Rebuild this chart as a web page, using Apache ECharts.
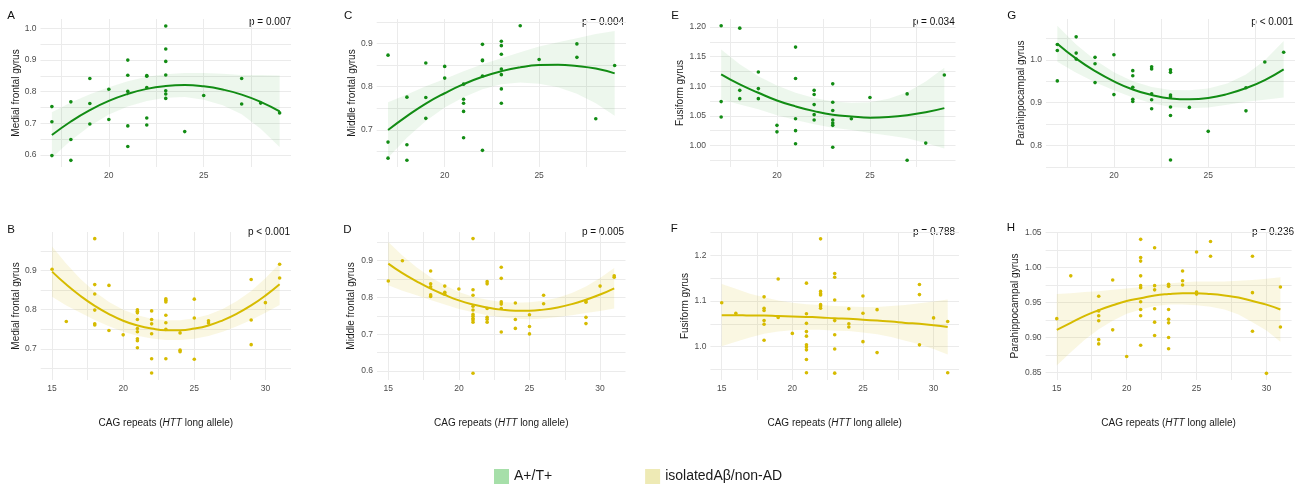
<!DOCTYPE html>
<html><head><meta charset="utf-8">
<script src="https://cdn.jsdelivr.net/npm/echarts@6/dist/echarts.min.js"></script>
<style>html,body{margin:0;padding:0;background:#fff}#c{width:1305px;height:488px}</style>
</head><body><div id="c"></div>
<script>
// ---------- DATA ----------
const fitX1 = [17,18,19,20,21,22,23,24,25,26,27,28,29];
const fitX2 = [15,16,17,18,19,20,21,22,23,24,25,26,27,28,29,30,31];

const ptsA = [[17,0.753],[17,0.705],[17,0.598],[18,0.768],[18,0.649],[18,0.583],[19,0.842],[19,0.763],[19,0.698],
  [20,0.808],[20,0.712],[21,0.900],[21,0.852],[21,0.801],[21,0.692],[21,0.627],[22,0.851],[22,0.849],[22,0.813],[22,0.717],[22,0.695],
  [23,1.008],[23,0.935],[23,0.896],[23,0.853],[23,0.803],[23,0.793],[23,0.779],[24,0.674],[25,0.788],[27,0.842],[27,0.761],[28,0.764],[29,0.733]];
const fitA = [0.663,0.706,0.742,0.771,0.793,0.809,0.818,0.821,0.817,0.807,0.791,0.768,0.738];
const ciA  = [0.072,0.060,0.050,0.043,0.040,0.038,0.037,0.038,0.042,0.050,0.062,0.085,0.113];

const ptsC = [[17,0.873],[17,0.672],[17,0.635],[18,0.776],[18,0.666],[18,0.630],[19,0.855],[19,0.775],[19,0.727],
  [20,0.847],[20,0.820],[21,0.806],[21,0.771],[21,0.762],[21,0.743],[21,0.682],[22,0.898],[22,0.862],[22,0.860],[22,0.825],[22,0.653],
  [23,0.905],[23,0.895],[23,0.875],[23,0.841],[23,0.828],[23,0.795],[23,0.762],[24,0.941],[25,0.863],[27,0.899],[27,0.868],[28,0.726],[29,0.849]];
const fitC = [0.700,0.732,0.761,0.785,0.806,0.823,0.836,0.845,0.850,0.851,0.848,0.842,0.831];
const ciC  = [0.064,0.050,0.040,0.033,0.030,0.029,0.030,0.035,0.043,0.052,0.064,0.080,0.098];

const ptsE = [[17,1.202],[17,1.074],[17,1.048],[18,1.198],[18,1.093],[18,1.079],[19,1.124],[19,1.096],[19,1.079],
  [20,1.034],[20,1.023],[21,1.166],[21,1.113],[21,1.045],[21,1.025],[21,1.003],[22,1.093],[22,1.086],[22,1.069],[22,1.052],[22,1.043],
  [23,1.104],[23,1.073],[23,1.059],[23,1.043],[23,1.038],[23,1.034],[23,0.997],[24,1.045],[25,1.081],[27,1.087],[27,0.975],[28,1.004],[29,1.119]];
const fitE = [1.120,1.103,1.089,1.076,1.066,1.058,1.052,1.049,1.047,1.048,1.051,1.056,1.063];
const ciE  = [0.042,0.034,0.028,0.025,0.023,0.022,0.022,0.023,0.026,0.031,0.039,0.052,0.068];

const ptsG = [[17,1.036],[17,1.022],[17,0.951],[18,1.054],[18,1.016],[18,1.002],[19,1.006],[19,0.991],[19,0.947],
  [20,1.012],[20,0.919],[21,0.975],[21,0.963],[21,0.936],[21,0.908],[21,0.903],[22,0.984],[22,0.979],[22,0.921],[22,0.907],[22,0.886],
  [23,0.977],[23,0.971],[23,0.918],[23,0.914],[23,0.890],[23,0.870],[23,0.766],[24,0.889],[25,0.833],[27,0.935],[27,0.881],[28,0.995],[29,1.018]];
const fitG = [1.038,1.003,0.974,0.950,0.931,0.918,0.910,0.908,0.911,0.920,0.934,0.953,0.978];
const ciG  = [0.042,0.033,0.026,0.021,0.019,0.019,0.020,0.021,0.022,0.025,0.032,0.046,0.066];

const ptsB = [[15,0.903],[16,0.770],[18,0.981],[18,0.864],[18,0.840],[18,0.799],[18,0.764],[18,0.761],[19,0.862],[19,0.747],[20,0.736],
  [21,0.800],[21,0.796],[21,0.792],[21,0.775],[21,0.752],[21,0.744],[21,0.726],[21,0.721],[21,0.703],
  [22,0.797],[22,0.775],[22,0.764],[22,0.739],[22,0.675],[22,0.639],[23,0.828],[23,0.824],[23,0.820],[23,0.786],[23,0.767],[23,0.750],[23,0.675],
  [24,0.741],[24,0.697],[24,0.693],[25,0.827],[25,0.779],[25,0.674],[26,0.772],[26,0.766],[29,0.877],[29,0.774],[29,0.711],[30,0.818],[31,0.916],[31,0.881]];
const fitB = [0.897,0.864,0.835,0.810,0.789,0.772,0.760,0.752,0.748,0.748,0.752,0.760,0.773,0.790,0.811,0.836,0.865];
const ciB  = [0.064,0.053,0.043,0.036,0.031,0.028,0.026,0.025,0.025,0.025,0.026,0.027,0.029,0.032,0.037,0.044,0.053];

const ptsD = [[15,0.845],[16,0.900],[18,0.872],[18,0.837],[18,0.829],[18,0.807],[18,0.803],[19,0.831],[19,0.814],[19,0.809],[20,0.823],
  [21,0.960],[21,0.821],[21,0.806],[21,0.776],[21,0.766],[21,0.754],[21,0.749],[21,0.743],[21,0.739],[21,0.733],[21,0.594],
  [22,0.843],[22,0.837],[22,0.770],[22,0.746],[22,0.741],[22,0.733],[23,0.882],[23,0.852],[23,0.788],[23,0.782],[23,0.770],[23,0.706],
  [24,0.785],[24,0.740],[24,0.716],[25,0.753],[25,0.721],[25,0.701],[26,0.806],[26,0.783],[29,0.791],[29,0.787],[29,0.746],[29,0.729],[30,0.831],[31,0.859],[31,0.855]];
const fitD = [0.892,0.866,0.844,0.824,0.807,0.792,0.781,0.773,0.767,0.764,0.764,0.767,0.773,0.782,0.794,0.808,0.825];
const ciD  = [0.059,0.048,0.038,0.031,0.026,0.023,0.021,0.021,0.021,0.022,0.023,0.024,0.026,0.030,0.036,0.045,0.055];

const ptsF = [[15,1.096],[16,1.073],[18,1.109],[18,1.084],[18,1.079],[18,1.057],[18,1.049],[18,1.014],[19,1.148],[19,1.064],[20,1.029],
  [21,1.139],[21,1.072],[21,1.051],[21,1.033],[21,1.023],[21,1.004],[21,0.999],[21,0.993],[21,0.972],[21,0.943],
  [22,1.236],[22,1.121],[22,1.116],[22,1.113],[22,1.092],[22,1.089],[22,1.084],[23,1.160],[23,1.152],[23,1.102],[23,1.057],[23,1.026],[23,0.995],[23,0.942],
  [24,1.083],[24,1.050],[24,1.043],[25,1.111],[25,1.073],[25,1.011],[26,1.081],[26,0.987],[29,1.136],[29,1.114],[29,1.004],[30,1.063],[31,1.055],[31,0.943]];
const fitF = [1.069,1.069,1.068,1.068,1.067,1.066,1.065,1.064,1.062,1.061,1.059,1.057,1.055,1.052,1.050,1.047,1.043];
const ciF  = [0.068,0.058,0.048,0.040,0.034,0.030,0.028,0.027,0.027,0.027,0.028,0.030,0.034,0.039,0.045,0.052,0.060];

const ptsH = [[15,0.927],[16,0.988],[18,0.959],[18,0.938],[18,0.931],[18,0.924],[18,0.897],[18,0.891],[19,0.982],[19,0.911],[20,0.873],
  [21,1.040],[21,1.014],[21,1.009],[21,0.988],[21,0.974],[21,0.971],[21,0.951],[21,0.940],[21,0.931],[21,0.889],
  [22,1.028],[22,0.974],[22,0.968],[22,0.941],[22,0.922],[22,0.903],[23,0.976],[23,0.973],[23,0.940],[23,0.926],[23,0.921],[23,0.900],[23,0.884],
  [24,0.995],[24,0.981],[24,0.975],[25,1.022],[25,0.965],[25,0.962],[26,1.037],[26,1.016],[29,1.016],[29,0.964],[29,0.909],[30,0.849],[31,0.972],[31,0.915]];
const fitH = [0.911,0.921,0.931,0.939,0.946,0.952,0.956,0.960,0.962,0.963,0.963,0.962,0.960,0.957,0.952,0.947,0.940];
const ciH  = [0.051,0.042,0.034,0.027,0.022,0.018,0.016,0.015,0.015,0.016,0.017,0.018,0.020,0.024,0.030,0.037,0.046];

// tick values / labels
const xGrid1 = [17.5,20,22.5,25,27.5];
const xLab1  = [20,25];
const xGrid2 = [15,17.5,20,22.5,25,27.5,30];
const xLab2  = [15,20,25,30];
const yGridA = [0.6,0.65,0.7,0.75,0.8,0.85,0.9,0.95,1.0], yLabA = [0.6,0.7,0.8,0.9,1.0];
const yGridC = [0.65,0.7,0.75,0.8,0.85,0.9,0.95], yLabC = [0.7,0.8,0.9];
const yGridE = [0.975,1.0,1.025,1.05,1.075,1.1,1.125,1.15,1.175,1.2], yLabE = [1.0,1.05,1.1,1.15,1.2];
const yGridG = [0.75,0.8,0.85,0.9,0.95,1.0,1.05], yLabG = [0.8,0.9,1.0];
const yGridB = [0.65,0.7,0.75,0.8,0.85,0.9,0.95], yLabB = [0.7,0.8,0.9];
const yGridD = [0.6,0.65,0.7,0.75,0.8,0.85,0.9,0.95], yLabD = [0.6,0.7,0.8,0.9];
const yGridF = [0.95,1.0,1.05,1.1,1.15,1.2,1.25], yLabF = [1.0,1.1,1.2];
const yGridH = [0.85,0.875,0.9,0.925,0.95,0.975,1.0,1.025,1.05], yLabH = [0.85,0.9,0.95,1.0,1.05];

const groups = ['A+/T+', 'isolatedAβ/non-AD'];
const pvals = {A:'p = 0.007', C:'p = 0.004', E:'p = 0.034', G:'p < 0.001', B:'p < 0.001', D:'p = 0.005', F:'p = 0.788', H:'p = 0.236'};
const regions = {A:'Medial frontal gyrus', C:'Middle frontal gyrus', E:'Fusiform gyrus', G:'Parahippocampal gyrus',
                 B:'Medial frontal gyrus', D:'Middle frontal gyrus', F:'Fusiform gyrus', H:'Parahippocampal gyrus'};
const xTitle = 'CAG repeats ({i|HTT} long allele)';

// ---------- STYLE / LAYOUT ----------
const FONT = '"Liberation Sans", Arial, sans-serif';
const GREEN = '#128c14', YELLOW = '#d6bb00';
const GREEN_BAND = 'rgba(60,170,60,0.09)', YELLOW_BAND = 'rgba(220,190,30,0.13)';

const panels = [
 {id:'A', pts:ptsA, fx:fitX1, fit:fitA, ci:ciA, g:0, box:[40.5,19,250.5,148], x:[16.4,29.6], y:[0.562,1.030], yg:yGridA, yl:yLabA, dec:1, gap:19, letter:[7.3,15.5], p:[291,22]},
 {id:'C', pts:ptsC, fx:fitX1, fit:fitC, ci:ciC, g:0, box:[376.7,19,249.3,148], x:[16.4,29.6], y:[0.6145,0.9566], yg:yGridC, yl:yLabC, dec:1, gap:19.4, letter:[344,16], p:[624,22]},
 {id:'E', pts:ptsE, fx:fitX1, fit:fitE, ci:ciE, g:0, box:[710,19,245.5,148], x:[16.4,29.6], y:[0.9637,1.2134], yg:yGridE, yl:yLabE, dec:2, gap:24, letter:[671.3,16], p:[954.7,22]},
 {id:'G', pts:ptsG, fx:fitX1, fit:fitG, ci:ciG, g:0, box:[1046,19,249,148], x:[16.4,29.6], y:[0.7497,1.0957], yg:yGridG, yl:yLabG, dec:1, gap:19.3, letter:[1007.3,15.5], p:[1293.3,22.5]},
 {id:'B', pts:ptsB, fx:fitX2, fit:fitB, ci:ciB, g:1, box:[40.7,232,250.3,148], x:[14.2,31.8], y:[0.621,0.998], yg:yGridB, yl:yLabB, dec:1, gap:18.4, letter:[7.3,230.3], p:[290,232.3]},
 {id:'D', pts:ptsD, fx:fitX2, fit:fitD, ci:ciD, g:1, box:[377,232,248.5,148], x:[14.2,31.8], y:[0.5757,0.978], yg:yGridD, yl:yLabD, dec:1, gap:20.3, letter:[343.3,230.3], p:[624,232.3]},
 {id:'F', pts:ptsF, fx:fitX2, fit:fitF, ci:ciF, g:1, box:[710.4,232,248.6,148], x:[14.2,31.8], y:[0.927,1.251], yg:yGridF, yl:yLabF, dec:1, gap:19.4, letter:[670.7,228.8], p:[955,232.7]},
 {id:'H', pts:ptsH, fx:fitX2, fit:fitH, ci:ciH, g:1, box:[1045.6,232,246,148], x:[14.2,31.8], y:[0.8395,1.0505], yg:yGridH, yl:yLabH, dec:2, gap:24.9, letter:[1006.7,228.3], p:[1294,232.3]}
];

const option = {animation:false, backgroundColor:'#fff', grid:[], xAxis:[], yAxis:[], series:[], graphic:[],
  legend:{left:494, top:469, padding:0, itemWidth:15, itemHeight:15, itemGap:93, icon:'rect',
    textStyle:{fontSize:14, color:'#1a1a1a', fontFamily:FONT},
    data:[{name:groups[0], itemStyle:{color:'#a6dfa9'}}, {name:groups[1], itemStyle:{color:'#eeeab5'}}]}
};
const tickLab = {fontSize:8.5, color:'#4d4d4d', fontFamily:FONT};
const gridLine = {show:true, lineStyle:{color:'#ebebeb', width:1}};

panels.forEach((P, i) => {
  const top = P.g === 0;
  const col = top ? GREEN : YELLOW, band = top ? GREEN_BAND : YELLOW_BAND;
  option.grid.push({left:P.box[0], top:P.box[1], width:P.box[2], height:P.box[3], containLabel:false, outerBoundsMode:'none'});
  option.xAxis.push({type:'value', gridIndex:i, min:P.x[0], max:P.x[1],
    axisLine:{show:false}, axisTick:{show:false, customValues: top ? xGrid1 : xGrid2},
    axisLabel:Object.assign({customValues: top ? xLab1 : xLab2, margin:4}, tickLab),
    splitLine:gridLine, minorSplitLine:{show:false},
    name: top ? '' : xTitle, nameLocation:'middle', nameGap:38,
    nameTextStyle:{fontSize:10, color:'#1a1a1a', fontFamily:FONT, rich:{i:{fontStyle:'italic', fontSize:10, color:'#1a1a1a', fontFamily:FONT}}}});
  option.yAxis.push({type:'value', gridIndex:i, min:P.y[0], max:P.y[1],
    axisLine:{show:false}, axisTick:{show:false, customValues:P.yg},
    axisLabel:Object.assign({customValues:P.yl, margin:4, formatter:v => Number(v).toFixed(P.dec)}, tickLab),
    splitLine:gridLine,
    name:regions[P.id], nameLocation:'middle', nameRotate:90, nameGap:P.gap,
    nameTextStyle:{fontSize:10, color:'#1a1a1a', fontFamily:FONT}});
  const fx = P.fx, fit = P.fit, ci = P.ci;
  option.series.push({type:'custom', name:groups[P.g], xAxisIndex:i, yAxisIndex:i, silent:true, z:1,
    data:[[fx[0], fit[0]]],
    renderItem:(params, api) => {
      const up = fx.map((x,k) => api.coord([x, fit[k] + ci[k]]));
      const lo = fx.map((x,k) => api.coord([x, fit[k] - ci[k]])).reverse();
      return {type:'polygon', shape:{points:up.concat(lo)}, style:{fill:band}};
    }});
  option.series.push({type:'scatter', xAxisIndex:i, yAxisIndex:i, silent:true, z:2, data:P.pts,
    symbol:'circle', symbolSize:3.6, itemStyle:{color:col, opacity:1}});
  option.series.push({type:'line', xAxisIndex:i, yAxisIndex:i, silent:true, z:3,
    data:fx.map((x,k) => [x, fit[k]]), showSymbol:false, smooth:true,
    lineStyle:{color:col, width:2}});
  option.graphic.push({type:'text', x:P.letter[0], y:P.letter[1], silent:true,
    style:{text:P.id, fontSize:11.5, fontFamily:FONT, fill:'#111', align:'left', verticalAlign:'middle'}});
  option.graphic.push({type:'text', x:P.p[0], y:P.p[1], silent:true,
    style:{text:pvals[P.id], fontSize:10, fontFamily:FONT, fill:'#111', align:'right', verticalAlign:'middle'}});
});

const chart = echarts.init(document.getElementById('c'), null, {renderer:'canvas'});
chart.setOption(option);
</script></body></html>
